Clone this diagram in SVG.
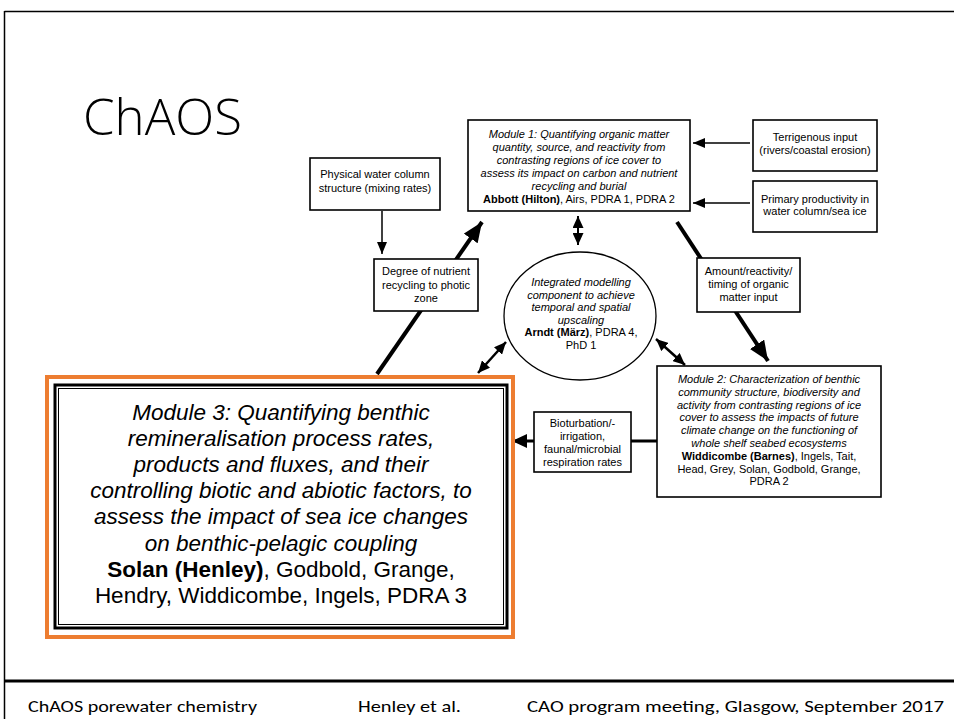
<svg xmlns="http://www.w3.org/2000/svg" width="954" height="719" viewBox="0 0 954 719">
<style>
.bx{fill:#fff;stroke:#000;stroke-width:1.6}
.t{font-family:"Liberation Sans",Arial,sans-serif;font-size:11px;fill:#000;text-anchor:middle}
.i{font-style:italic}
.b{font-weight:bold}
.big{font-family:"Liberation Sans",Arial,sans-serif;font-size:22.5px;fill:#000;text-anchor:middle}
.cn{stroke:#000;fill:none}
.ft{font-family:Carlito,Calibri,"Liberation Sans",sans-serif;font-size:17px;fill:#000}
</style>
<defs>
<marker id="ah" markerUnits="userSpaceOnUse" markerWidth="12" markerHeight="10" refX="12" refY="5" orient="auto-start-reverse"><path d="M0,0 L12,5 L0,10 z" fill="#000"/></marker>
<marker id="am" markerUnits="userSpaceOnUse" markerWidth="12" markerHeight="11" refX="12" refY="5.5" orient="auto-start-reverse"><path d="M0,0 L12,5.5 L0,11 z" fill="#000"/></marker>
<marker id="al" markerUnits="userSpaceOnUse" markerWidth="20" markerHeight="17" refX="20" refY="8.5" orient="auto-start-reverse"><path d="M0,0 L20,8.5 L0,17 z" fill="#000"/></marker>
<marker id="ab" markerUnits="userSpaceOnUse" markerWidth="15" markerHeight="14" refX="15" refY="7" orient="auto-start-reverse"><path d="M0,0 L15,7 L0,14 z" fill="#000"/></marker>
</defs>

<g id="slide-frame">
<path d="M4.5,11 V719 M4.5,11.5 H954" stroke="#000" stroke-width="1.5" fill="none"/>
<path d="M4.5,681 H954" stroke="#000" stroke-width="3" fill="none"/>
<text x="83" y="135" font-family="'Open Sans',Carlito,'Liberation Sans',sans-serif" font-weight="300" font-size="50" textLength="159" lengthAdjust="spacingAndGlyphs">ChAOS</text>
<text class="ft" x="28" y="712" textLength="229" lengthAdjust="spacingAndGlyphs">ChAOS porewater chemistry</text>
<text class="ft" x="358" y="712" textLength="103" lengthAdjust="spacingAndGlyphs">Henley et al.</text>
<text class="ft" x="527" y="712" textLength="417" lengthAdjust="spacingAndGlyphs">CAO program meeting, Glasgow, September 2017</text>
</g>

<g id="connectors">
<line class="cn" x1="750" y1="143" x2="693" y2="143" stroke-width="1.5" marker-end="url(#ah)"/>
<line class="cn" x1="750" y1="203" x2="693" y2="203" stroke-width="1.5" marker-end="url(#ah)"/>
<line class="cn" x1="382" y1="211" x2="382" y2="254" stroke-width="1.5" marker-end="url(#ah)"/>
<line class="cn" x1="578" y1="216" x2="578" y2="245" stroke-width="2" marker-start="url(#am)" marker-end="url(#am)"/>
<line class="cn" x1="377" y1="374" x2="482" y2="222" stroke-width="4" marker-end="url(#al)"/>
<line class="cn" x1="677" y1="222" x2="768" y2="361" stroke-width="4" marker-end="url(#al)"/>
<line class="cn" x1="478" y1="373" x2="506" y2="342" stroke-width="2.5" marker-start="url(#am)" marker-end="url(#am)"/>
<line class="cn" x1="656" y1="339" x2="685" y2="365" stroke-width="2.5" marker-start="url(#am)" marker-end="url(#am)"/>
<line class="cn" x1="657" y1="441" x2="512" y2="441" stroke-width="3" marker-end="url(#ab)"/>
</g>

<g id="module1">
<rect class="bx" x="468" y="120" width="222" height="91"/>
<text class="t i" x="579" y="138">Module 1: Quantifying organic matter</text>
<text class="t i" x="579" y="151">quantity, source, and reactivity from</text>
<text class="t i" x="579" y="164">contrasting regions of ice cover to</text>
<text class="t i" x="579" y="177">assess its impact on carbon and nutrient</text>
<text class="t i" x="579" y="190">recycling and burial</text>
<text class="t" x="579" y="203"><tspan class="b">Abbott (Hilton)</tspan>, Airs, PDRA 1, PDRA 2</text>
</g>

<g id="terrigenous">
<rect class="bx" x="753" y="120" width="124" height="51"/>
<text class="t" x="815" y="141">Terrigenous input</text>
<text class="t" x="815" y="154">(rivers/coastal erosion)</text>
</g>

<g id="primary">
<rect class="bx" x="753" y="181" width="124" height="51"/>
<text class="t" x="815" y="203">Primary productivity in</text>
<text class="t" x="815" y="215">water column/sea ice</text>
</g>

<g id="physical">
<rect class="bx" x="310" y="158" width="130" height="52"/>
<text class="t" x="375" y="178">Physical water column</text>
<text class="t" x="375" y="192">structure (mixing rates)</text>
</g>

<g id="degree">
<rect class="bx" x="374" y="259" width="104" height="52"/>
<text class="t" x="426" y="275">Degree of nutrient</text>
<text class="t" x="426" y="288.5">recycling to photic</text>
<text class="t" x="426" y="302">zone</text>
</g>

<g id="modelling">
<ellipse cx="580" cy="316" rx="76" ry="64" fill="#fff" stroke="#000" stroke-width="1.3"/>
<text class="t i" x="581" y="286">Integrated modelling</text>
<text class="t i" x="581" y="298.6">component to achieve</text>
<text class="t i" x="581" y="311.2">temporal and spatial</text>
<text class="t i" x="581" y="323.8">upscaling</text>
<text class="t" x="581" y="336.4"><tspan class="b">Arndt (März)</tspan>, PDRA 4,</text>
<text class="t" x="581" y="349">PhD 1</text>
</g>

<g id="amount">
<rect class="bx" x="697" y="258" width="103" height="54"/>
<text class="t" x="748.5" y="275">Amount/reactivity/</text>
<text class="t" x="748.5" y="288">timing of organic</text>
<text class="t" x="748.5" y="301">matter input</text>
</g>

<g id="module2">
<rect class="bx" x="657" y="366" width="224" height="131"/>
<text class="t i" x="769" y="383">Module 2: Characterization of benthic</text>
<text class="t i" x="769" y="395.8">community structure, biodiversity and</text>
<text class="t i" x="769" y="408.6">activity from contrasting regions of ice</text>
<text class="t i" x="769" y="421.4">cover to assess the impacts of future</text>
<text class="t i" x="769" y="434.2">climate change on the functioning of</text>
<text class="t i" x="769" y="447">whole shelf seabed ecosystems</text>
<text class="t" x="769" y="459.8"><tspan class="b">Widdicombe (Barnes)</tspan>, Ingels, Tait,</text>
<text class="t" x="769" y="472.6">Head, Grey, Solan, Godbold, Grange,</text>
<text class="t" x="769" y="485.4">PDRA 2</text>
</g>

<g id="bioturbation">
<rect class="bx" x="534" y="412" width="97" height="60"/>
<text class="t" x="582.5" y="427">Bioturbation/-</text>
<text class="t" x="582.5" y="440">irrigation,</text>
<text class="t" x="582.5" y="453">faunal/microbial</text>
<text class="t" x="582.5" y="466">respiration rates</text>
</g>

<g id="module3">
<rect x="47" y="377" width="466" height="260" fill="none" stroke="#ED7D31" stroke-width="4"/>
<rect x="55" y="385" width="452" height="243" fill="#fff" stroke="#000" stroke-width="3"/>
<rect x="58.5" y="388.5" width="445" height="236" fill="none" stroke="#000" stroke-width="1"/>
<text class="big i" x="281" y="420">Module 3: Quantifying benthic</text>
<text class="big i" x="281" y="446.1">remineralisation process rates,</text>
<text class="big i" x="281" y="472.2">products and fluxes, and their</text>
<text class="big i" x="281" y="498.3">controlling biotic and abiotic factors, to</text>
<text class="big i" x="281" y="524.4">assess the impact of sea ice changes</text>
<text class="big i" x="281" y="550.5">on benthic-pelagic coupling</text>
<text class="big" x="281" y="576.6"><tspan class="b">Solan (Henley)</tspan>, Godbold, Grange,</text>
<text class="big" x="281" y="602.7">Hendry, Widdicombe, Ingels, PDRA 3</text>
</g>
</svg>
